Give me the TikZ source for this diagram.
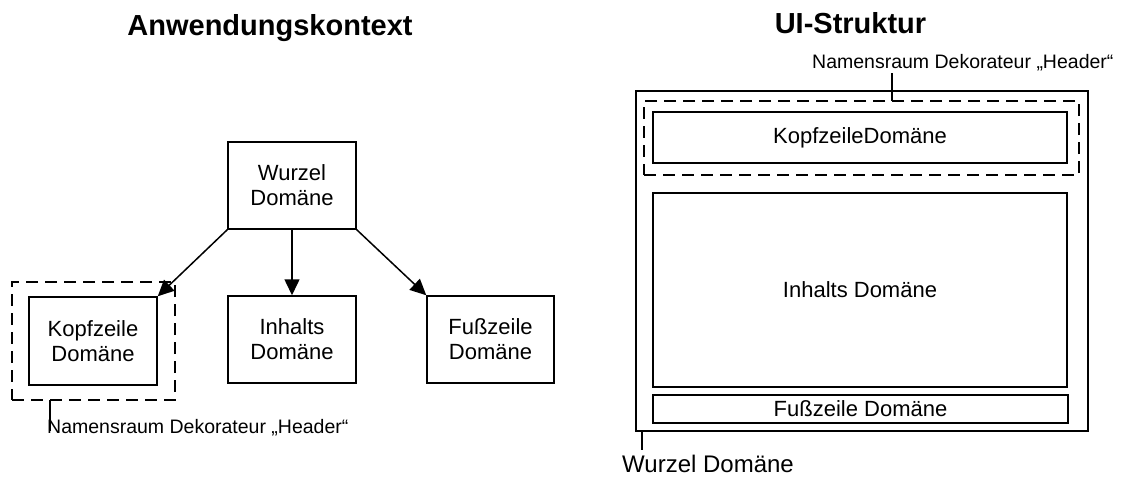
\documentclass[tikz,border=0pt]{standalone}
\usepackage{fontspec}
\setmainfont{Liberation Sans}
\usetikzlibrary{arrows.meta}
\begin{document}
\begin{tikzpicture}[x=1pt,y=-1pt,
  box/.style={draw,line width=1.5pt,inner sep=0pt,align=center,font=\fontsize{22}{25}\selectfont},
  nsbox/.style={draw,line width=1.5pt,dash pattern=on 12pt off 7pt,inner sep=0pt},
  conn/.style={line width=1.5pt,-{Triangle[length=16pt,width=15pt]}},
  lead/.style={line width=1.5pt},
  lbl/.style={inner sep=0pt,anchor=base west,font=\fontsize{19.5}{22}\selectfont},
  ttl/.style={inner sep=0pt,font=\fontsize{29}{32}\selectfont\bfseries}]
\useasboundingbox (0,0) rectangle (1121,477);
% titles
\node[ttl] (t1) at (270,28) {Anwendungskontext};
\node[ttl] (t2) at (850.5,23) {UI-Struktur};
% left: application context
\node[box,minimum width=128pt,minimum height=87pt] (wurzel) at (292,185.5) {Wurzel\\Domäne};
\node[box,minimum width=128pt,minimum height=88pt] (kopf) at (93,341) {Kopfzeile\\Domäne};
\node[box,minimum width=128pt,minimum height=87pt] (inhalt) at (292,339.5) {Inhalts\\Domäne};
\node[box,minimum width=127pt,minimum height=87pt] (fuss) at (490.5,339.5) {Fußzeile\\Domäne};
\node[nsbox,minimum width=163pt,minimum height=118pt] (ns) at (93.5,341) {};
\draw[conn] (wurzel.south west) -- (kopf.north east);
\draw[conn] (wurzel.south) -- (inhalt.north);
\draw[conn] (wurzel.south east) -- (fuss.north west);
\coordinate (nsA) at (50,400);
\coordinate (nsB) at (50,431);
\draw[lead] (nsA) -- (nsB);
\node[lbl] (nslbl) at (47,433) {Namensraum Dekorateur „Header“};
% right: UI structure
\node[box,minimum width=452pt,minimum height=340pt] (outer) at (862,261) {};
\node[nsbox,minimum width=435pt,minimum height=74pt] (nsR) at (861.5,138) {};
\node[box,minimum width=414pt,minimum height=51pt] (kopfR) at (860,137.5) {KopfzeileDomäne};
\node[box,minimum width=414pt,minimum height=194pt] (inhaltR) at (860,290) {Inhalts Domäne};
\node[box,minimum width=415pt,minimum height=28pt] (fussR) at (860.5,409) {Fußzeile Domäne};
\coordinate (rA) at (892,101);
\coordinate (rB) at (892,73);
\draw[lead] (rA) -- (rB);
\node[lbl] (nslblR) at (812,68) {Namensraum Dekorateur „Header“};
\coordinate (wA) at (642,431);
\coordinate (wB) at (642,450);
\draw[lead] (wA) -- (wB);
\node[inner sep=0pt,anchor=base west,font=\fontsize{24}{28}\selectfont] (wlbl) at (622,472) {Wurzel Domäne};
\end{tikzpicture}
\end{document}
